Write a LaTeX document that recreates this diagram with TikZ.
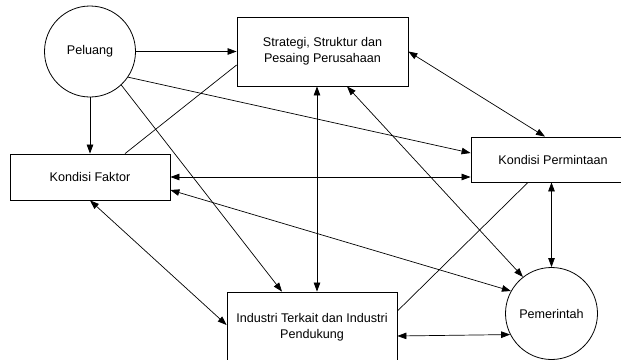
\documentclass[tikz,border=0pt]{standalone}
\usepackage{fontspec}
\setmainfont{Liberation Sans}
\usetikzlibrary{arrows.meta}
\begin{document}
\begin{tikzpicture}[x=1pt,y=-1pt,
  every node/.style={font=\fontsize{12.6}{16}\selectfont, text=black},
  boxnode/.style={draw, line width=0.8pt, rectangle, inner sep=0pt, align=center},
  circnode/.style={draw, line width=0.8pt, circle, inner sep=0pt},
  conn/.style={line width=0.7pt},
  onearrow/.style={conn, -{Triangle[length=9pt,width=6.5pt]}},
  twoarrow/.style={conn, {Triangle[length=9pt,width=6.5pt]}-{Triangle[length=9pt,width=6.5pt]}}
]
\useasboundingbox (0,0) rectangle (621,359);
\clip (0,0) rectangle (621,359);
\fill[white] (0,0) rectangle (621,359);

\node[circnode, minimum size=91pt] (peluang) at (90,51.5) {Peluang};
\node[boxnode, minimum width=171pt, minimum height=69pt] (strategi) at (322.5,51.5) {Strategi, Struktur dan\\Pesaing Perusahaan};
\node[boxnode, minimum width=160pt, minimum height=46pt] (faktor) at (90,177) {Kondisi Faktor};
\node[boxnode, minimum width=164pt, minimum height=45pt] (permintaan) at (553,159.5) {Kondisi Permintaan};
\node[boxnode, minimum width=170pt, minimum height=70pt] (industri) at (312,327) {Industri Terkait dan Industri\\Pendukung};
\node[circnode, minimum size=92pt] (pemerintah) at (551.5,313.5) {Pemerintah};

% from Peluang
\draw[onearrow] (peluang.east) -- (strategi.west);
\draw[onearrow] (peluang.south) -- (faktor.north);
\draw[onearrow] (peluang.-34.5) -- ([yshift=6.5pt]permintaan.west);
\draw[onearrow] (peluang.-47) -- ([xshift=-30pt]industri.north);

% plain lines
\draw[conn] ([yshift=-13.5pt]strategi.west) -- ([xshift=35pt]faktor.north);
\draw[conn] ([yshift=16pt]industri.east) -- ([xshift=-25pt]permintaan.south);

% double arrows
\draw[twoarrow] ([xshift=-5.5pt]strategi.south) -- ([xshift=5pt]industri.north);
\draw[twoarrow] (strategi.east) -- ([xshift=-8pt]permintaan.north);
\draw[twoarrow] ([xshift=24.5pt]strategi.south) -- (pemerintah.128);
\draw[twoarrow] (faktor.east) -- ([yshift=-17.5pt]permintaan.west);
\draw[twoarrow] ([yshift=-13pt]faktor.east) -- (pemerintah.151);
\draw[twoarrow] (faktor.south) -- ([yshift=2pt]industri.west);
\draw[twoarrow] ([xshift=-1.5pt]permintaan.south) -- (pemerintah.north);
\draw[twoarrow] ([yshift=-9pt]industri.east) -- (pemerintah.207);
\end{tikzpicture}
\end{document}
